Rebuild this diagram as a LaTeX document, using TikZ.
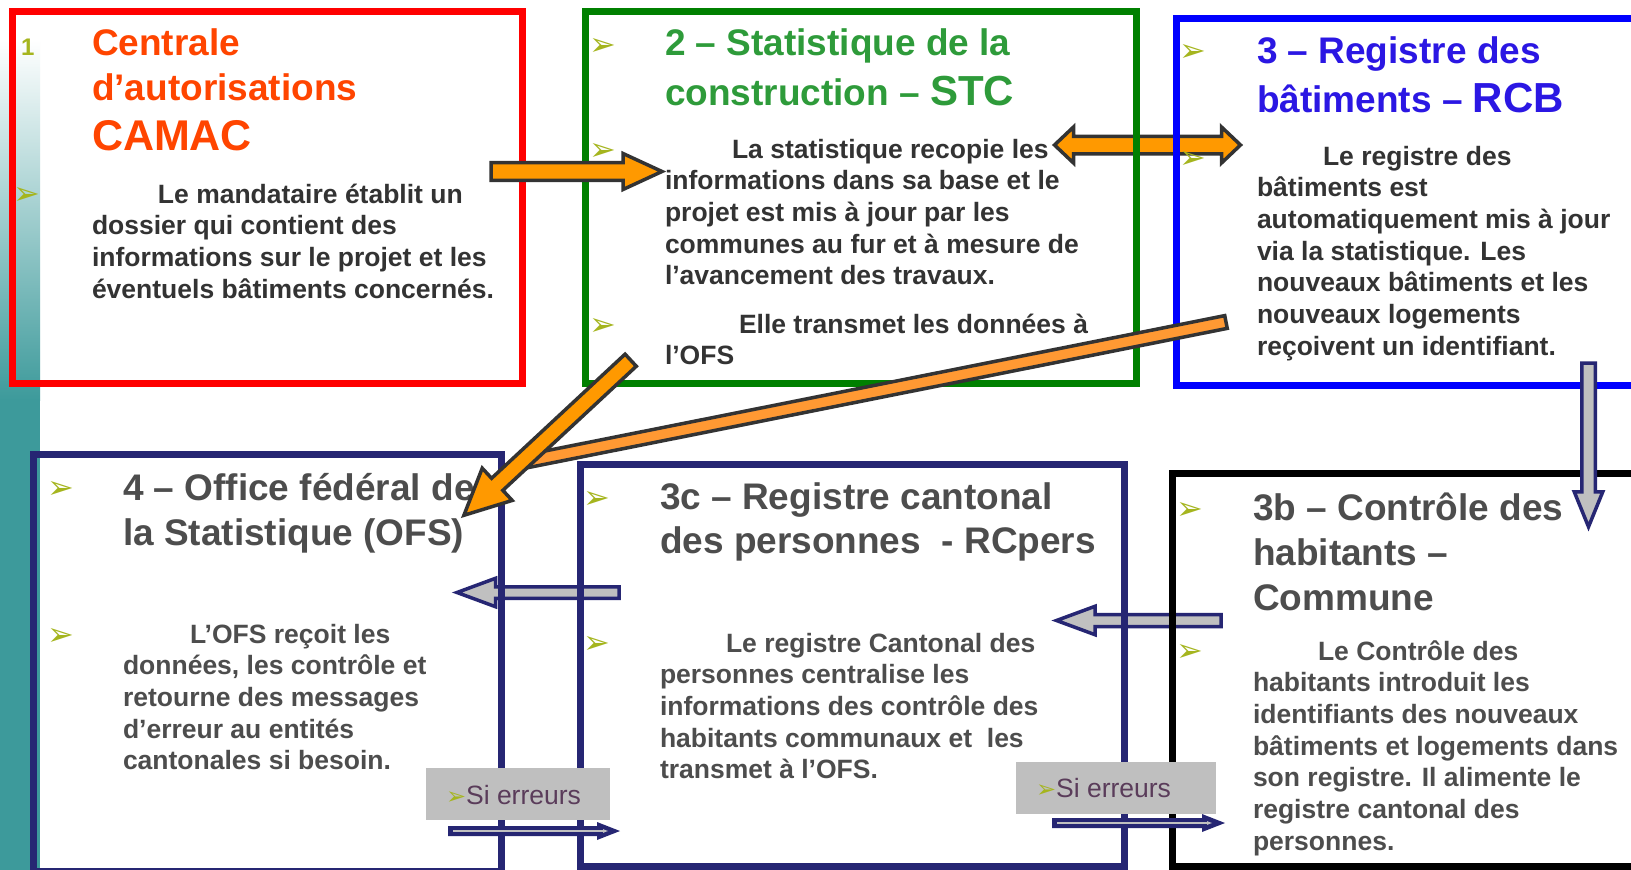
\documentclass[tikz,border=0pt]{standalone}
\usepackage{fontspec}
\setmainfont{Liberation Sans}
\newfontfamily\djv{DejaVu Sans}
\usetikzlibrary{calc,arrows.meta}
\definecolor{redtitle}{HTML}{FF4500}
\definecolor{greentitle}{HTML}{2E9B3A}
\definecolor{bluetitle}{HTML}{2B17E3}
\definecolor{bodydark}{HTML}{333333}
\definecolor{bodygray}{HTML}{4D4D4D}
\definecolor{bulletol}{HTML}{A5B51E}
\definecolor{navyb}{HTML}{262673}
\definecolor{greenb}{HTML}{008000}
\definecolor{blueb}{HTML}{0000FF}
\definecolor{redb}{HTML}{FF0000}
\definecolor{orangef}{HTML}{FF9900}
\definecolor{orangebar}{HTML}{FF9933}
\definecolor{outl}{HTML}{333333}
\definecolor{grayf}{HTML}{C0C0C0}
\definecolor{sieboxc}{HTML}{BFBFBF}
\definecolor{sietext}{HTML}{5A3C5A}
\definecolor{tealbg}{HTML}{3D9A9B}
\pgfdeclarelayer{back}
\pgfsetlayers{back,main}
\newcommand\mytitlefont{\bfseries\fontsize{37}{45}\selectfont}
\newcommand\mybodyfont{\bfseries\fontsize{26.5}{31.7}\selectfont}
\newcommand\blockarrow[6]{%
  \coordinate (bah) at ($(#3)!#6!(#2)$);
  \draw[#1] ($(#2)!#4!90:(#3)$) -- ($(bah)!#4!90:(#3)$) -- ($(bah)!#5!90:(#3)$) -- (#3)
    -- ($(bah)!#5!-90:(#3)$) -- ($(bah)!#4!-90:(#3)$) -- ($(#2)!#4!-90:(#3)$) -- cycle;}
\newcommand\dblarrow[6]{%
  \coordinate (dha) at ($(#2)!#6!(#3)$);
  \coordinate (dhb) at ($(#3)!#6!(#2)$);
  \draw[#1] (#2) -- ($(dha)!#5!90:(#3)$) -- ($(dha)!#4!90:(#3)$) -- ($(dhb)!#4!-90:(#2)$)
    -- ($(dhb)!#5!-90:(#2)$) -- (#3) -- ($(dhb)!#5!90:(#2)$) -- ($(dhb)!#4!90:(#2)$)
    -- ($(dha)!#4!-90:(#3)$) -- ($(dha)!#5!-90:(#3)$) -- cycle;}
\newcommand\barshape[4]{%
  \draw[#1] ($(#2)!#4!90:(#3)$) -- ($(#3)!#4!-90:(#2)$) -- ($(#3)!#4!90:(#2)$) -- ($(#2)!#4!-90:(#3)$) -- cycle;}
\begin{document}
\begin{tikzpicture}[x=1pt,y=-1pt,
  txt/.style={anchor=base west,inner sep=0pt,outer sep=0pt},
  bul/.style={text=bulletol,font=\djv\fontsize{32}{32}\selectfont,inner sep=0pt},
  boxframe/.style={draw=#1,line width=7pt,inner sep=0pt,outer sep=0pt},
  orangearrow/.style={fill=orangef,draw=outl,line width=3.5pt,line join=miter},
  orangebarst/.style={fill=orangebar,draw=outl,line width=3.5pt,line join=miter},
  grayarrow/.style={fill=grayf,draw=navyb,line width=3.5pt,line join=miter},
  thinarrow/.style={fill=navyb,draw=none},
  innerline/.style={draw=grayf,line width=1.4pt,-{Latex[length=6pt,width=4pt]}},
  siebox/.style={fill=sieboxc,inner sep=0pt,outer sep=0pt}]
\useasboundingbox (0,0) rectangle (1631,870);

% boxes
\node[boxframe=redb,minimum width=510pt,minimum height=372pt] (camac) at (267,197) {};
\node[boxframe=greenb,minimum width=551pt,minimum height=372pt] (stc) at (861,197) {};
\node[boxframe=blueb,minimum width=475.5pt,minimum height=367pt] (rcb) at (1414.25,201.5) {};
\node[boxframe=navyb,minimum width=467.5pt,minimum height=417pt] (ofs) at (267.25,662.5) {};
\node[boxframe=navyb,minimum width=544pt,minimum height=401.5pt] (rcpers) at (852,665.25) {};
\node[boxframe=black,minimum width=480pt,minimum height=392.5pt] (commune) at (1412,669.75) {};

% arrow end points
\coordinate (o1s) at (491,171.5); \coordinate (o1e) at (662,171.5);
\coordinate (o2a) at (1054.5,145); \coordinate (o2b) at (1240.5,145);
\coordinate (o3s) at (630.7,360.2); \coordinate (o3e) at (463.9,515.3);
\coordinate (brs) at (1226,322); \coordinate (bre) at (518,463);
\coordinate (dns) at (1588.5,363); \coordinate (dne) at (1588.5,526.8);
\coordinate (l1s) at (619,592.5); \coordinate (l1e) at (457,592.5);
\coordinate (l2s) at (1221,620.5); \coordinate (l2e) at (1056.5,620.5);
\coordinate (t1s) at (448,831); \coordinate (t1e) at (620,831);
\coordinate (t2s) at (1052,823); \coordinate (t2e) at (1225,823);
\coordinate (t1a) at (453,831); \coordinate (t1b) at (609,831);
\coordinate (t2a) at (1057,823); \coordinate (t2b) at (1213,823);

\begin{pgfonlayer}{back}
  \fill[white] (0,0) rectangle (1631,870);
  \shade[top color=white,bottom color=tealbg] (0,40) rectangle (40,400);
  \fill[tealbg] (0,399) rectangle (40,870);
  \dblarrow{orangearrow}{o2a}{o2b}{8.75pt}{18pt}{19pt}
  \blockarrow{grayarrow}{l1s}{l1e}{5.75pt}{14.2pt}{38.5pt}
  \blockarrow{grayarrow}{l2s}{l2e}{6pt}{14.2pt}{38.5pt}
\end{pgfonlayer}

% box 1
\node[txt,text=bulletol,font=\bfseries\fontsize{24}{24}\selectfont] (num1) at (21,55) {1};
\node[txt,text=redtitle] (camacT) at (92,55) {\parbox[t]{500pt}{\mytitlefont Centrale\\d’autorisations\\[5pt]{\fontsize{43}{45}\selectfont CAMAC}}};
\node[bul] (b1) at (27,196) {➢};
\node[txt,text=bodydark] (camacB) at (92,203) {\parbox[t]{500pt}{\mybodyfont\hspace*{66pt}Le mandataire établit un\\dossier qui contient des\\informations sur le projet et les\\éventuels bâtiments concernés.}};

% box 2
\node[bul] (b2) at (603,47) {➢};
\node[bul] (b3) at (603,152) {➢};
\node[bul] (b4) at (603,327) {➢};
\node[txt,text=greentitle] (stcT) at (665,55) {\parbox[t]{500pt}{\mytitlefont 2 – Statistique de la\\[5pt]construction – {\fontsize{42}{45}\selectfont STC}}};
\node[txt,text=bodydark] (stcB) at (665,158) {\parbox[t]{500pt}{\mybodyfont\hspace*{67pt}La statistique recopie les\\informations dans sa base et le\\projet est mis à jour par les\\communes au fur et à mesure de\\l’avancement des travaux.}};
\node[txt,text=bodydark] (stcC) at (665,333) {\parbox[t]{500pt}{\mybodyfont\hspace*{74pt}Elle transmet les données à\\l’OFS}};

% box 3
\node[bul] (b5) at (1193,53) {➢};
\node[bul] (b6) at (1193,160) {➢};
\node[txt,text=bluetitle] (rcbT) at (1257,63) {\parbox[t]{500pt}{\mytitlefont 3 – Registre des\\[5pt]bâtiments – {\fontsize{42}{45}\selectfont RCB}}};
\node[txt,text=bodydark] (rcbB) at (1257,165) {\parbox[t]{500pt}{\mybodyfont\hspace*{66pt}Le registre des\\bâtiments est\\automatiquement mis à jour\\via la statistique. Les\\nouveaux bâtiments et les\\nouveaux logements\\reçoivent un identifiant.}};

% box 4
\node[bul] (b7) at (61,490) {➢};
\node[bul] (b8) at (61,637) {➢};
\node[txt,text=bodygray] (ofsT) at (123,500) {\parbox[t]{500pt}{\mytitlefont 4 – Office fédéral de\\la Statistique (OFS)}};
\node[txt,text=bodygray] (ofsB) at (123,643) {\parbox[t]{500pt}{\mybodyfont\hspace*{67pt}L’OFS reçoit les\\données, les contrôle et\\retourne des messages\\d’erreur au entités\\cantonales si besoin.}};

% box 3c
\node[bul] (b9) at (597,500) {➢};
\node[bul] (b10) at (597,645) {➢};
\node[txt,text=bodygray] (rcpT) at (660,509) {\parbox[t]{500pt}{\bfseries\fontsize{37}{44}\selectfont 3c – Registre cantonal\\des personnes\ \ - RCpers}};
\node[txt,text=bodygray] (rcpB) at (660,652) {\parbox[t]{500pt}{\mybodyfont\hspace*{66pt}Le registre Cantonal des\\personnes centralise les\\informations des contrôle des\\habitants communaux et\ \ les\\transmet à l’OFS.}};

% box 3b
\node[bul] (b11) at (1190,511) {➢};
\node[bul] (b12) at (1190,653) {➢};
\node[txt,text=bodygray] (comT) at (1253,520) {\parbox[t]{500pt}{\mytitlefont 3b – Contrôle des\\habitants –\\Commune}};
\node[txt,text=bodygray] (comB) at (1253,660) {\parbox[t]{500pt}{\mybodyfont\hspace*{65pt}Le Contrôle des\\habitants introduit les\\identifiants des nouveaux\\bâtiments et logements dans\\son registre. Il alimente le\\registre cantonal des\\personnes.}};

% foreground arrows
\blockarrow{orangearrow}{o1s}{o1e}{8.8pt}{18pt}{39pt}
\barshape{orangebarst}{brs}{bre}{6.5pt}
\blockarrow{orangearrow}{o3s}{o3e}{8.25pt}{22pt}{45.5pt}
\blockarrow{grayarrow}{dns}{dne}{6.75pt}{14.25pt}{35pt}

% error boxes
\node[siebox,minimum width=184pt,minimum height=52pt] (sie1) at (518,794) {};
\node[siebox,minimum width=200pt,minimum height=52pt] (sie2) at (1116,788) {};
\node[txt,text=sietext,font=\fontsize{26.5}{30}\selectfont] (sie1t) at (446,804) {{\color{bulletol}\djv\fontsize{24}{24}\selectfont ➢}Si erreurs};
\node[txt,text=sietext,font=\fontsize{26.5}{30}\selectfont] (sie2t) at (1036,797) {{\color{bulletol}\djv\fontsize{24}{24}\selectfont ➢}Si erreurs};
\blockarrow{thinarrow}{t1s}{t1e}{5pt}{9pt}{23pt}
\draw[innerline] (t1a) -- (t1b);
\blockarrow{thinarrow}{t2s}{t2e}{5pt}{9pt}{23pt}
\draw[innerline] (t2a) -- (t2b);
\end{tikzpicture}
\end{document}
